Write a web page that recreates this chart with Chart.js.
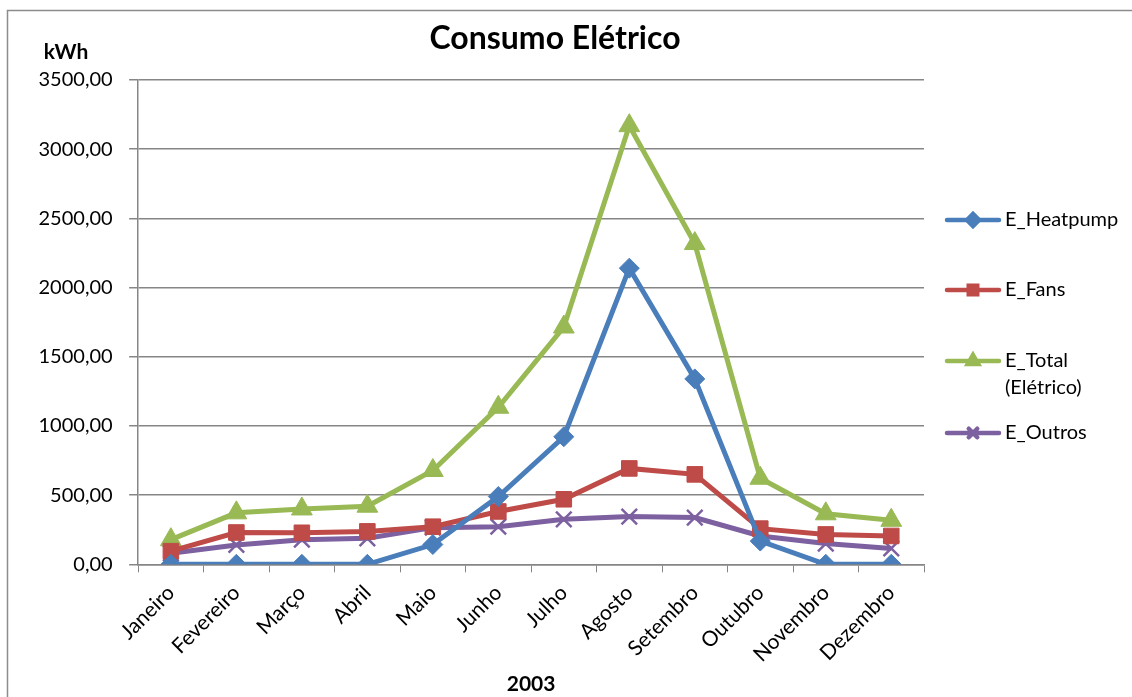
<!DOCTYPE html>
<html>
<head>
<meta charset="utf-8">
<script src="https://cdn.jsdelivr.net/npm/chart.js@4.4.0/dist/chart.umd.min.js"></script>
<style>
  html, body { margin: 0; padding: 0; background: #fff; }
  #wrap { width: 1132px; height: 697px; }
</style>
</head>
<body>
<div id="wrap"><canvas id="myChart" width="1132" height="697"></canvas></div>
<script>
// months of 2003
const meses = ['Janeiro','Fevereiro','Março','Abril','Maio','Junho','Julho','Agosto','Setembro','Outubro','Novembro','Dezembro'];

// kWh per month
const eHeatpump = [0, 0, 0, 0, 143, 490, 922, 2140, 1340, 168, 0, 0];
const eFans     = [95, 230, 228, 238, 272, 382, 470, 693, 650, 258, 216, 205];
const eTotal    = [178, 372, 400, 420, 678, 1135, 1715, 3170, 2318, 622, 365, 318];
const eOutros   = [80, 140, 178, 188, 265, 272, 325, 345, 338, 205, 150, 115];

const yTicks = [0, 500, 1000, 1500, 2000, 2500, 3000, 3500];

const FONT = 'Lato, "Open Sans", sans-serif';

const ctx = document.getElementById('myChart');

// frame, title, kWh label and a legend drawn as line + marker
const extras = {
    id: 'extras',
    beforeDraw(chart) {
        const c = chart.ctx;
        c.save();
        c.strokeStyle = '#8c8c8c';
        c.lineWidth = 1.5;
        c.beginPath();
        c.moveTo(7.5, 697);
        c.lineTo(7.5, 10.5);
        c.lineTo(1132, 10.5);
        c.stroke();
        c.restore();
    },
    afterDraw(chart) {
        const c = chart.ctx;
        const area = chart.chartArea;
        c.save();
        c.fillStyle = '#000';
        c.textAlign = 'center';
        c.textBaseline = 'middle';
        c.font = 'bold 32px ' + FONT;
        c.fillText('Consumo Elétrico', 555, 39);
        c.font = 'bold 21px ' + FONT;
        c.fillText('kWh', 66, 52);

        const x0 = area.right + 23;
        const rows = [220, 290, 361, 433];
        c.font = '20px ' + FONT;
        c.textAlign = 'left';
        chart.data.datasets.forEach((ds, i) => {
            const y = rows[i];
            c.strokeStyle = ds.borderColor;
            c.lineWidth = 4.5;
            c.lineCap = 'round';
            c.beginPath();
            c.moveTo(x0, y);
            c.lineTo(x0 + 52, y);
            c.stroke();
            c.fillStyle = ds.borderColor;
            Chart.helpers.drawPoint(c, {
                pointStyle: ds.pointStyle,
                radius: 6,
                borderWidth: ds.pointStyle === 'crossRot' ? 2 : 1
            }, x0 + 26, y);
            c.fillStyle = '#000';
            const lines = ds.label.split('\n');
            lines.forEach((t, k) => c.fillText(t, x0 + 58, y + k * 27));
        });
        c.restore();
    }
};

function serie(label, data, color, style, r) {
    return {
        label: label,
        data: data,
        borderColor: color,
        backgroundColor: color,
        pointBackgroundColor: color,
        pointBorderColor: color,
        pointStyle: style,
        pointRadius: r,
        pointBorderWidth: style === 'crossRot' ? 2.5 : 1,
        borderWidth: 5,
        tension: 0
    };
}

new Chart(ctx, {
    type: 'line',
    data: {
        labels: meses,
        datasets: [
            serie('E_Heatpump', eHeatpump, '#4A7EBB', 'rectRot', 10),
            serie('E_Fans', eFans, '#BE4B48', 'rect', 11),
            serie('E_Total\n(Elétrico)', eTotal, '#98B954', 'triangle', 12),
            serie('E_Outros', eOutros, '#7D60A0', 'crossRot', 11)
        ]
    },
    plugins: [extras],
    options: {
        responsive: false,
        animation: false,
        layout: {
            padding: { left: 22, right: 208, top: 80, bottom: 0 }
        },
        plugins: {
            legend: { display: false },
            tooltip: { enabled: false },
            title: { display: false }
        },
        scales: {
            x: {
                offset: true,
                grid: {
                    display: true,
                    offset: true,
                    drawOnChartArea: false,
                    color: '#868686',
                    tickLength: 8
                },
                border: { color: '#868686', width: 1.5 },
                ticks: {
                    color: '#000',
                    maxRotation: 45,
                    minRotation: 45,
                    font: { family: FONT, size: 21 },
                    padding: 8
                },
                title: {
                    display: true,
                    text: '2003',
                    color: '#000',
                    font: { family: FONT, size: 21, weight: 'bold' },
                    padding: { top: -3, bottom: 0 }
                }
            },
            y: {
                min: 0,
                max: 3500,
                afterBuildTicks(scale) {
                    scale.ticks = yTicks.map(v => ({ value: v }));
                },
                grid: {
                    color: '#868686',
                    lineWidth: 1.5,
                    tickLength: 9
                },
                border: { color: '#868686', width: 1.5 },
                ticks: {
                    color: '#000',
                    font: { family: FONT, size: 20 },
                    padding: 16.5,
                    callback: v => v.toFixed(2).replace('.', ',')
                }
            }
        }
    }
});
</script>
</body>
</html>
